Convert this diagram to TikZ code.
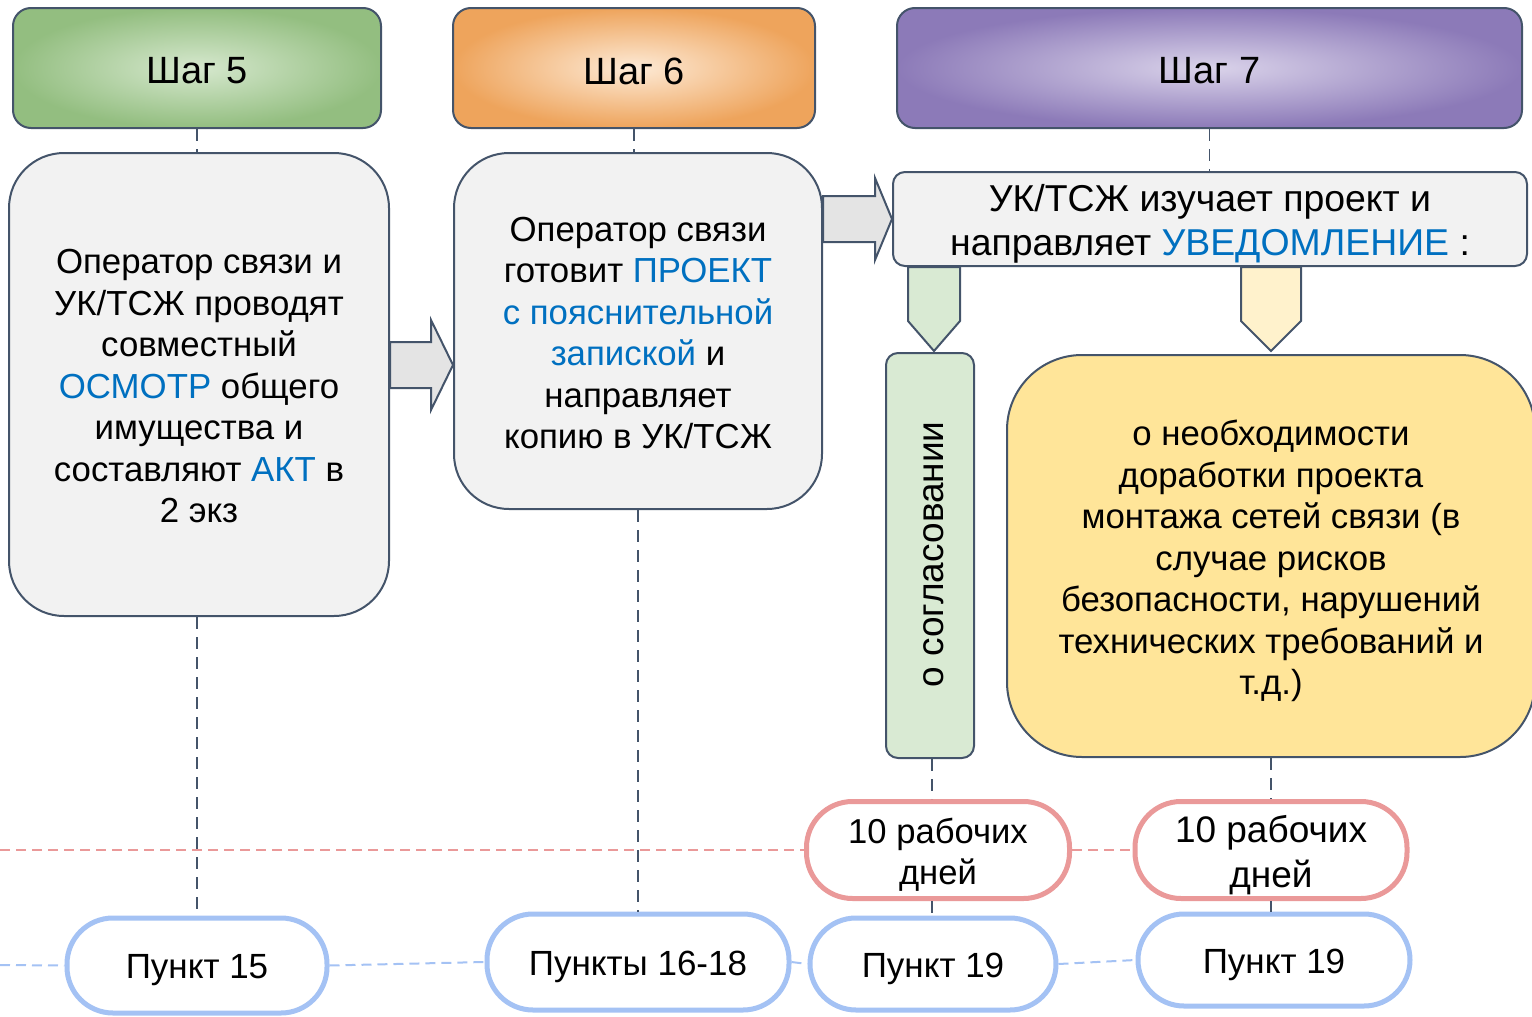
\documentclass[tikz,border=0pt]{standalone}
\usepackage{fontspec}
\setmainfont{Liberation Sans}
\usetikzlibrary{calc}
\definecolor{edgec}{HTML}{44546A}
\definecolor{hl}{HTML}{0070C0}
\definecolor{greyfill}{HTML}{F2F2F2}
\definecolor{arrfill}{HTML}{E4E4E4}
\definecolor{redc}{HTML}{EA9999}
\definecolor{bluec}{HTML}{A4C2F4}
\definecolor{greenfill}{HTML}{D9EAD3}
\definecolor{paleyellow}{HTML}{FFF2CC}
\definecolor{yellowfill}{HTML}{FFE599}
\begin{document}
\begin{tikzpicture}[x=1pt,y=-1pt,
  stepbox/.style={draw=edgec, line width=2pt, rounded corners=18pt, minimum height=120pt, shading=radial},
  steptext/.style={font=\fontsize{38}{44}\selectfont, inner sep=0pt},
  mainbox/.style={draw=edgec, line width=2pt, fill=greyfill, inner sep=0pt},
  maintext/.style={align=center, font=\fontsize{34.8}{41.5}\selectfont, inner sep=0pt},
  blockarr/.style={draw=edgec, line width=2pt, fill=arrfill, line join=miter},
  vdash/.style={draw=edgec, line width=1.5pt, dash pattern=on 12pt off 8pt},
  reddash/.style={draw=redc, line width=2pt, dash pattern=on 10pt off 6pt},
  bluedash/.style={draw=bluec, line width=2pt, dash pattern=on 10pt off 6pt},
  pill/.style={draw=bluec, line width=5pt, fill=white, rounded corners=46pt, inner sep=0pt},
  pilltext/.style={inner sep=0pt, font=\fontsize{35}{40}\selectfont},
  daypill/.style={draw=redc, line width=5pt, fill=white, rounded corners=46pt, inner sep=0pt},
  daytext/.style={inner sep=0pt, align=center, font=\fontsize{34.6}{41}\selectfont}
]
\useasboundingbox (0,0) rectangle (1532,1017);

% step headers
\node[stepbox, inner color={rgb,255:red,214;green,232;blue,206}, outer color={rgb,255:red,147;green,190;blue,128}, minimum width=368pt] (s5) at (197,68) {};
\node[stepbox, inner color={rgb,255:red,253;green,234;blue,214}, outer color={rgb,255:red,238;green,164;blue,92}, minimum width=362pt] (s6) at (634,68) {};
\node[stepbox, inner color={rgb,255:red,218;green,211;blue,234}, outer color={rgb,255:red,140;green,122;blue,184}, minimum width=625pt] (s7) at (1209.5,68) {};
\node[steptext] (s5t) at ([yshift=-3pt]s5.center) {Шаг 5};
\node[steptext] (s6t) at ([yshift=-3pt]s6.center) {Шаг 6};
\node[steptext] (s7t) at ([yshift=-3pt]s7.center) {Шаг 7};

% main boxes
\node[mainbox, rounded corners=55pt, minimum width=380pt, minimum height=463pt] (A) at (199,384.5) {};
\node[maintext] (At) at ([yshift=-2pt]A.center)
 {Оператор связи и\\УК/ТСЖ проводят\\совместный\\\textcolor{hl}{ОСМОТР} общего\\имущества и\\составляют \textcolor{hl}{АКТ} в\\2 экз};
\node[mainbox, rounded corners=55pt, minimum width=368pt, minimum height=356pt] (B) at (638,331) {};
\node[maintext] (Bt) at ([yshift=-2pt]B.center)
 {Оператор связи\\готовит \textcolor{hl}{ПРОЕКТ}\\\textcolor{hl}{с пояснительной}\\\textcolor{hl}{запиской} и\\направляет\\копию в УК/ТСЖ};
\node[mainbox, rounded corners=12pt, minimum width=634pt, minimum height=94pt] (C) at (1210,219) {};
\node[maintext, font=\fontsize{37.4}{44}\selectfont] (Ct) at ([yshift=-5pt]C.center)
 {УК/ТСЖ изучает проект и\\направляет \textcolor{hl}{УВЕДОМЛЕНИЕ} :};
\node[mainbox, fill=greenfill, rounded corners=12pt, minimum width=88pt, minimum height=405pt] (G) at (930,555.5) {};
\node[maintext, font=\fontsize{37}{44}\selectfont, rotate=90] (Gt) at ([xshift=4pt,yshift=1pt]G.center) {о согласовании};
\node[mainbox, fill=yellowfill, rounded corners=75pt, minimum width=528pt, minimum height=402pt] (Y) at (1271,556) {};
\node[maintext] (Yt) at ([yshift=-5pt]Y.center)
 {о необходимости\\доработки проекта\\монтажа сетей связи (в\\случае рисков\\безопасности, нарушений\\технических требований и\\т.д.)};

% step connectors
\draw[vdash] (s5.south) -- (s5.south |- A.north);
\draw[vdash] (s6.south) -- (s6.south |- B.north);
\draw[vdash] (s7.south) -- (s7.south |- C.north);

% block arrows
\draw[blockarr] let \p1=(A.east), \p2=(B.west) in
  (\x1,342) -- (\x2-22,342) -- (\x2-22,320) -- (\x2,365) -- (\x2-22,410) -- (\x2-22,388) -- (\x1,388) -- cycle;
\draw[blockarr] let \p1=(B.east), \p2=(C.west) in
  (\x1,196) -- (\x2-17,196) -- (\x2-17,178) -- (\x2,219) -- (\x2-17,260) -- (\x2-17,242) -- (\x1,242) -- cycle;
\draw[blockarr, fill=greenfill] let \p1=(C.south), \p2=(G.north) in
  (908,\y1) -- (960,\y1) -- (960,\y2+31) -- (934,\y2+1) -- (908,\y2+31) -- cycle;
\draw[blockarr, fill=paleyellow] let \p1=(C.south), \p2=(Y.north) in
  (1241,\y1) -- (1301,\y1) -- (1301,\y2+33) -- (1271,\y2+3) -- (1241,\y2+33) -- cycle;

% bottom nodes
\node[daypill, minimum width=263pt, minimum height=97pt] (d1) at (938,850) {};
\node[daytext] (d1t) at ([yshift=-5pt]d1.center) {10 рабочих\\дней};
\node[daypill, minimum width=272pt, minimum height=97pt] (d2) at (1271,850) {};
\node[daytext, font=\fontsize{37}{45}\selectfont] (d2t) at ([yshift=-5pt]d2.center) {10 рабочих\\дней};
\node[pill, minimum width=260pt, minimum height=95pt] (p15) at (197,965.5) {};
\node[pilltext] (p15t) at ([yshift=-5pt]p15.center) {Пункт 15};
\node[pill, minimum width=302pt, minimum height=96pt] (p1618) at (638,962) {};
\node[pilltext] (p1618t) at ([yshift=-5pt]p1618.center) {Пункты 16-18};
\node[pill, minimum width=246pt, minimum height=92pt] (p19a) at (933,964) {};
\node[pilltext] (p19at) at ([yshift=-5pt]p19a.center) {Пункт 19};
\node[pill, minimum width=272pt, minimum height=92pt] (p19b) at (1274,960) {};
\node[pilltext] (p19bt) at ([yshift=-5pt]p19b.center) {Пункт 19};

% vertical dashed connectors
\draw[vdash] (p15.north |- A.south) -- (p15.north);
\draw[vdash] (B.south) -- (B.south |- p1618.north);
\draw[vdash] (932,0 |- G.south) -- (932,0 |- d1.north);
\draw[vdash] (932,0 |- d1.south) -- (932,0 |- p19a.north);
\draw[vdash] (Y.south) -- (Y.south |- d2.north);
\draw[vdash] (Y.south |- d2.south) -- (Y.south |- p19b.north);

% horizontal dashed lines
\coordinate (rl) at (0,850);
\coordinate (bl) at (0,965);
\draw[reddash] (rl) -- (d1.west);
\draw[reddash] (d1.east) -- (d2.west);
\draw[bluedash] (bl) -- (p15.west);
\draw[bluedash] (p15.east) -- (p1618.west);
\draw[bluedash] (p1618.east) -- (p19a.west);
\draw[bluedash] (p19a.east) -- (p19b.west);
\end{tikzpicture}
\end{document}
